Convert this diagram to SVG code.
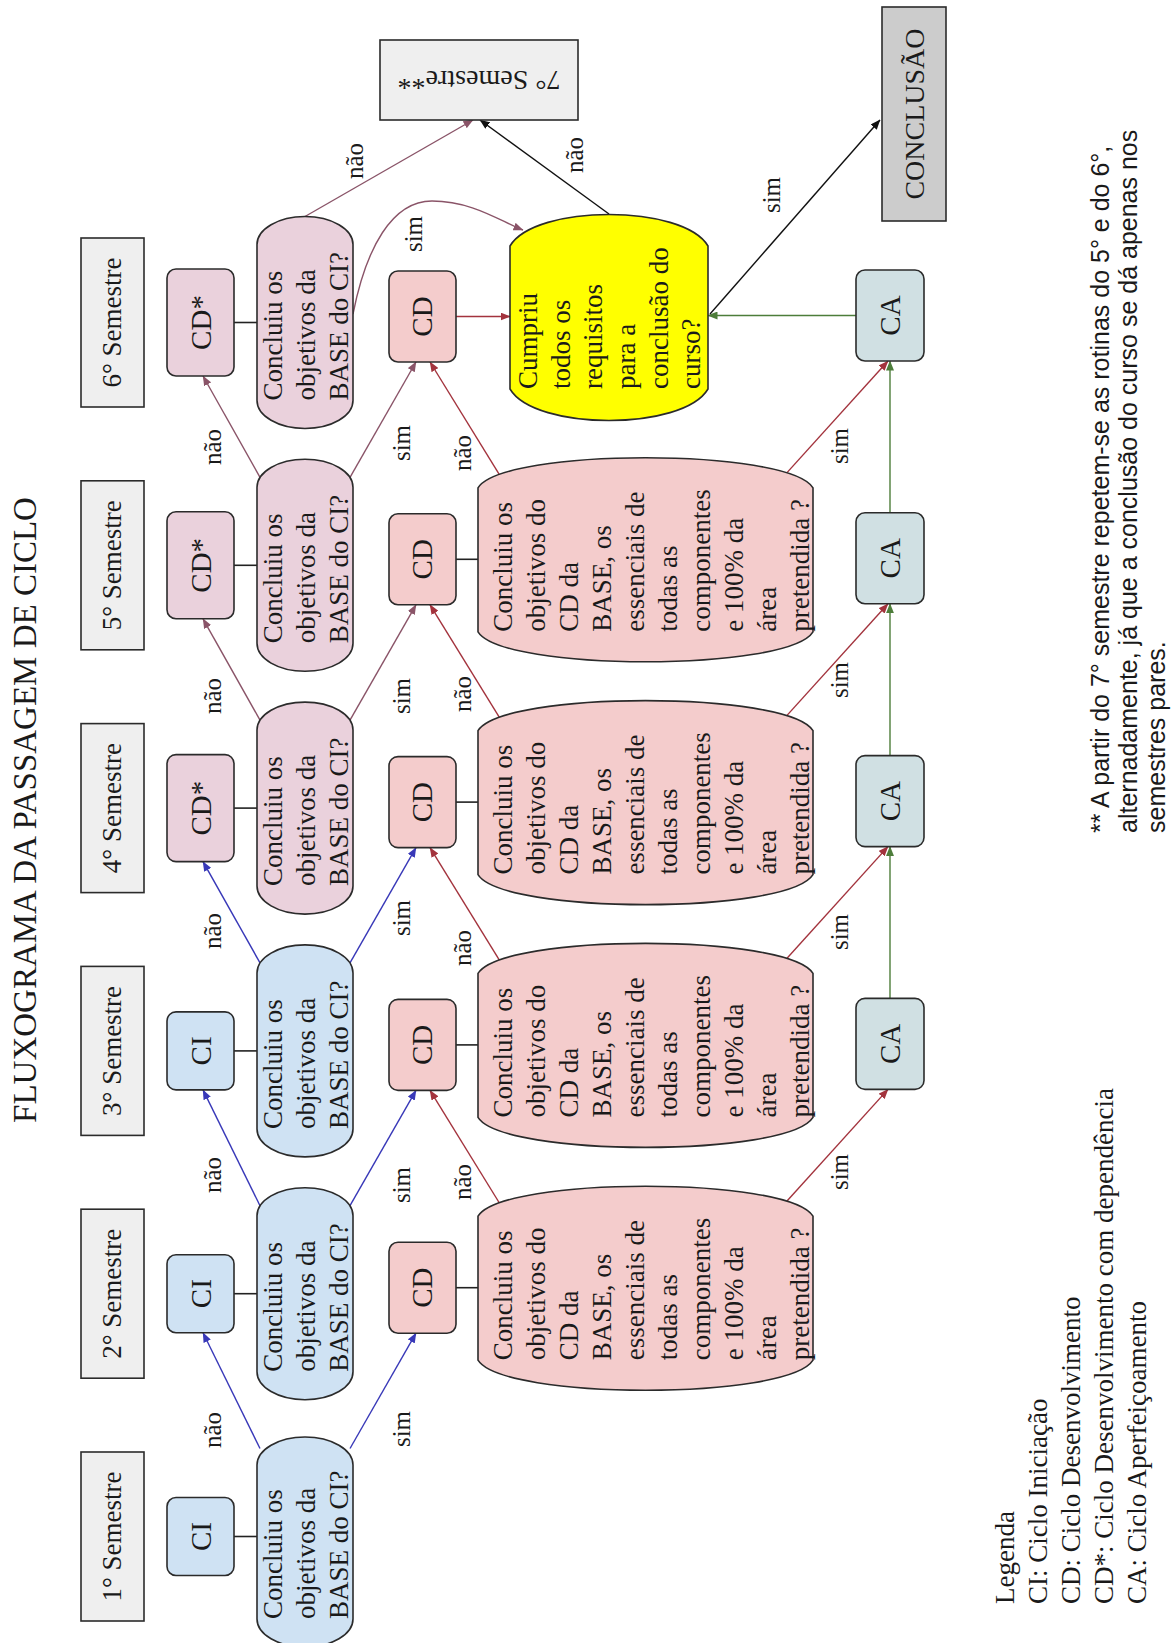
<svg xmlns="http://www.w3.org/2000/svg" width="1171" height="1643" viewBox="0 0 1171 1643">
<defs>
<style>
text{font-family:"Liberation Serif","Times New Roman",serif;fill:#1a1a1a}
.sans{font-family:"Liberation Sans",Arial,sans-serif}
.box{stroke:#2b2b2b;stroke-width:1.6}
.sem{fill:#efefef}
.ci{fill:#cfe2f3}
.cdx{fill:#ead1dc}
.cd{fill:#f4cccc}
.ca{fill:#d0e0e3}
.yel{fill:#ffff00}
.conc{fill:#cccccc}
.t27{font-size:27px}
.t29{font-size:29px}
.lab{font-size:25px}
.c{text-anchor:middle}
.ln{fill:none;stroke-width:1.4}
.blue{stroke:#3838b8}
.mauve{stroke:#8a5468}
.red{stroke:#a3333d}
.green{stroke:#4d7d3a}
.blk{stroke:#111}
.plain{stroke:#222;stroke-width:1.6;fill:none}
</style>
<marker id="mBlue" markerWidth="10" markerHeight="8" refX="9.5" refY="4" orient="auto" markerUnits="userSpaceOnUse"><path d="M0,0 L10,4 L0,8 Z" fill="#3838b8"/></marker>
<marker id="mMauve" markerWidth="10" markerHeight="8" refX="9.5" refY="4" orient="auto" markerUnits="userSpaceOnUse"><path d="M0,0 L10,4 L0,8 Z" fill="#8a5468"/></marker>
<marker id="mRed" markerWidth="10" markerHeight="8" refX="9.5" refY="4" orient="auto" markerUnits="userSpaceOnUse"><path d="M0,0 L10,4 L0,8 Z" fill="#a3333d"/></marker>
<marker id="mGreen" markerWidth="10" markerHeight="8" refX="9.5" refY="4" orient="auto" markerUnits="userSpaceOnUse"><path d="M0,0 L10,4 L0,8 Z" fill="#4d7d3a"/></marker>
<marker id="mBlk" markerWidth="10" markerHeight="8" refX="9.5" refY="4" orient="auto" markerUnits="userSpaceOnUse"><path d="M0,0 L10,4 L0,8 Z" fill="#111"/></marker>
</defs>
<rect x="0" y="0" width="1171" height="1643" fill="#ffffff"/>
<g transform="translate(0,1643) rotate(-90)">
<text id="title" x="833" y="36" class="c" font-size="33">FLUXOGRAMA DA PASSAGEM DE CICLO</text>

<g id="connectors">
<line class="plain" x1="106.5" y1="234" x2="106.5" y2="257"/>
<line class="plain" x1="349.3" y1="234" x2="349.3" y2="257"/>
<line class="plain" x1="592.1" y1="234" x2="592.1" y2="257"/>
<line class="plain" x1="834.9" y1="234" x2="834.9" y2="257"/>
<line class="plain" x1="1077.7" y1="234" x2="1077.7" y2="257"/>
<line class="plain" x1="1320.5" y1="234" x2="1320.5" y2="257"/>
<line class="plain" x1="355.3" y1="456" x2="355.3" y2="478"/>
<line class="plain" x1="598.1" y1="456" x2="598.1" y2="478"/>
<line class="plain" x1="840.9" y1="456" x2="840.9" y2="478"/>
<line class="plain" x1="1083.7" y1="456" x2="1083.7" y2="478"/>

<line class="ln blue" x1="194.5" y1="260" x2="310.3" y2="203" marker-end="url(#mBlue)"/>
<line class="ln blue" x1="437.3" y1="260" x2="553.1" y2="203" marker-end="url(#mBlue)"/>
<line class="ln blue" x1="680.1" y1="260" x2="781.4" y2="203" marker-end="url(#mBlue)"/>
<line class="ln mauve" x1="922.9" y1="260" x2="1024.2" y2="203" marker-end="url(#mMauve)"/>
<line class="ln mauve" x1="1165.7" y1="260" x2="1267" y2="203" marker-end="url(#mMauve)"/>

<line class="ln blue" x1="194.5" y1="350" x2="309.8" y2="416" marker-end="url(#mBlue)"/>
<line class="ln blue" x1="437.3" y1="350" x2="552.6" y2="416" marker-end="url(#mBlue)"/>
<line class="ln blue" x1="680.1" y1="350" x2="795.4" y2="416" marker-end="url(#mBlue)"/>
<line class="ln mauve" x1="922.9" y1="350" x2="1038.2" y2="416" marker-end="url(#mMauve)"/>
<line class="ln mauve" x1="1165.7" y1="350" x2="1281" y2="416" marker-end="url(#mMauve)"/>

<line class="ln red" x1="439" y1="500" x2="552.6" y2="430" marker-end="url(#mRed)"/>
<line class="ln red" x1="681.8" y1="500" x2="795.4" y2="430" marker-end="url(#mRed)"/>
<line class="ln red" x1="924.6" y1="500" x2="1038.2" y2="430" marker-end="url(#mRed)"/>
<line class="ln red" x1="1167.4" y1="500" x2="1281" y2="430" marker-end="url(#mRed)"/>

<line class="ln red" x1="442" y1="787" x2="553.6" y2="888" marker-end="url(#mRed)"/>
<line class="ln red" x1="684.8" y1="787" x2="796.4" y2="888" marker-end="url(#mRed)"/>
<line class="ln red" x1="927.6" y1="787" x2="1039.2" y2="888" marker-end="url(#mRed)"/>
<line class="ln red" x1="1170.4" y1="787" x2="1282" y2="888" marker-end="url(#mRed)"/>

<line class="ln green" x1="644.6" y1="890" x2="796.4" y2="890" marker-end="url(#mGreen)"/>
<line class="ln green" x1="887.4" y1="890" x2="1039.2" y2="890" marker-end="url(#mGreen)"/>
<line class="ln green" x1="1130.2" y1="890" x2="1282" y2="890" marker-end="url(#mGreen)"/>
<line class="ln green" x1="1327.5" y1="856" x2="1327.5" y2="708" marker-end="url(#mGreen)"/>

<line class="ln red" x1="1326.5" y1="456" x2="1326.5" y2="510" marker-end="url(#mRed)"/>
<line class="ln mauve" x1="1426.5" y1="305" x2="1523" y2="473" marker-end="url(#mMauve)"/>
<path class="ln mauve" d="M1329,353 C1395,366 1442,392 1442,432 S1422,500 1413,523" marker-end="url(#mMauve)"/>
<line class="ln blk" x1="1429" y1="609" x2="1523" y2="480" marker-end="url(#mBlk)"/>
<line class="ln blk" x1="1329" y1="710" x2="1523" y2="880" marker-end="url(#mBlk)"/>

<g class="lab c">
<text x="213" y="221">não</text>
<text x="468" y="221">não</text>
<text x="712" y="221">não</text>
<text x="947" y="221">não</text>
<text x="1196" y="221">não</text>
<text x="1482" y="363">não</text>
<text x="214" y="410">sim</text>
<text x="458" y="410">sim</text>
<text x="725" y="410">sim</text>
<text x="947" y="410">sim</text>
<text x="1200" y="410">sim</text>
<text x="1409" y="422">sim</text>
<text x="461" y="471">não</text>
<text x="695" y="471">não</text>
<text x="949" y="471">não</text>
<text x="1190" y="471">não</text>
<text x="471" y="848">sim</text>
<text x="711" y="848">sim</text>
<text x="963" y="848">sim</text>
<text x="1197" y="848">sim</text>
<text x="1488" y="583">não</text>
<text x="1448" y="780">sim</text>
</g>
</g>

<g id="sem1"><rect class="box sem" x="22" y="81" width="169" height="63"/><text class="t27 c" x="106.5" y="121">1° Semestre</text></g>
<g id="sem2"><rect class="box sem" x="264.8" y="81" width="169" height="63"/><text class="t27 c" x="349.3" y="121">2° Semestre</text></g>
<g id="sem3"><rect class="box sem" x="507.6" y="81" width="169" height="63"/><text class="t27 c" x="592.1" y="121">3° Semestre</text></g>
<g id="sem4"><rect class="box sem" x="750.4" y="81" width="169" height="63"/><text class="t27 c" x="834.9" y="121">4° Semestre</text></g>
<g id="sem5"><rect class="box sem" x="993.2" y="81" width="169" height="63"/><text class="t27 c" x="1077.7" y="121">5° Semestre</text></g>
<g id="sem6"><rect class="box sem" x="1236" y="81" width="169" height="63"/><text class="t27 c" x="1320.5" y="121">6° Semestre</text></g>
<g id="sem7"><rect class="box sem" x="1523" y="380" width="80" height="198"/><text class="c" font-size="28" x="1563" y="488" transform="rotate(-90 1563 479)">7° Semestre**</text></g>

<g id="ci1"><rect class="box ci" x="67.5" y="167" width="78" height="67" rx="9"/><text class="t29 c" x="106.5" y="211">CI</text></g>
<g id="ci2"><rect class="box ci" x="310.3" y="167" width="78" height="67" rx="9"/><text class="t29 c" x="349.3" y="211">CI</text></g>
<g id="ci3"><rect class="box ci" x="553.1" y="167" width="78" height="67" rx="9"/><text class="t29 c" x="592.1" y="211">CI</text></g>
<g id="cdx4"><rect class="box cdx" x="781.4" y="167" width="107" height="67" rx="9"/><text class="t29 c" x="834.9" y="211">CD*</text></g>
<g id="cdx5"><rect class="box cdx" x="1024.2" y="167" width="107" height="67" rx="9"/><text class="t29 c" x="1077.7" y="211">CD*</text></g>
<g id="cdx6"><rect class="box cdx" x="1267" y="167" width="107" height="67" rx="9"/><text class="t29 c" x="1320.5" y="211">CD*</text></g>

<g id="q1"><rect class="box ci" x="-4" y="257" width="210" height="96" rx="28" ry="48"/><text class="t27"><tspan x="24" y="282">Concluiu os</tspan><tspan x="24" y="315">objetivos da</tspan><tspan x="24" y="348">BASE do CI?</tspan></text></g>
<g id="q2"><rect class="box ci" x="243.3" y="257" width="212" height="96" rx="28" ry="48"/><text class="t27"><tspan x="271.3" y="282">Concluiu os</tspan><tspan x="271.3" y="315">objetivos da</tspan><tspan x="271.3" y="348">BASE do CI?</tspan></text></g>
<g id="q3"><rect class="box ci" x="486.1" y="257" width="212" height="96" rx="28" ry="48"/><text class="t27"><tspan x="514.1" y="282">Concluiu os</tspan><tspan x="514.1" y="315">objetivos da</tspan><tspan x="514.1" y="348">BASE do CI?</tspan></text></g>
<g id="q4"><rect class="box cdx" x="728.9" y="257" width="212" height="96" rx="28" ry="48"/><text class="t27"><tspan x="756.9" y="282">Concluiu os</tspan><tspan x="756.9" y="315">objetivos da</tspan><tspan x="756.9" y="348">BASE do CI?</tspan></text></g>
<g id="q5"><rect class="box cdx" x="971.7" y="257" width="212" height="96" rx="28" ry="48"/><text class="t27"><tspan x="999.7" y="282">Concluiu os</tspan><tspan x="999.7" y="315">objetivos da</tspan><tspan x="999.7" y="348">BASE do CI?</tspan></text></g>
<g id="q6"><rect class="box cdx" x="1214.5" y="257" width="212" height="96" rx="28" ry="48"/><text class="t27"><tspan x="1242.5" y="282">Concluiu os</tspan><tspan x="1242.5" y="315">objetivos da</tspan><tspan x="1242.5" y="348">BASE do CI?</tspan></text></g>

<g id="cd2"><rect class="box cd" x="309.8" y="389" width="91" height="67" rx="9"/><text class="t29 c" x="355.3" y="432">CD</text></g>
<g id="cd3"><rect class="box cd" x="552.6" y="389" width="91" height="67" rx="9"/><text class="t29 c" x="598.1" y="432">CD</text></g>
<g id="cd4"><rect class="box cd" x="795.4" y="389" width="91" height="67" rx="9"/><text class="t29 c" x="840.9" y="432">CD</text></g>
<g id="cd5"><rect class="box cd" x="1038.2" y="389" width="91" height="67" rx="9"/><text class="t29 c" x="1083.7" y="432">CD</text></g>
<g id="cd6"><rect class="box cd" x="1281" y="389" width="91" height="67" rx="9"/><text class="t29 c" x="1326.5" y="432">CD</text></g>

<g id="big2"><path class="box cd" d="M282.8,478 L426.8,478 C466.8,503 466.8,788 426.8,813 L282.8,813 C242.8,788 242.8,503 282.8,478 Z"/>
<text class="t27"><tspan x="282.8" y="512">Concluiu os</tspan><tspan x="282.8" y="545">objetivos do</tspan><tspan x="282.8" y="578">CD da</tspan><tspan x="282.8" y="611">BASE, os</tspan><tspan x="282.8" y="644">essenciais de</tspan><tspan x="282.8" y="677">todas as</tspan><tspan x="282.8" y="710">componentes</tspan><tspan x="282.8" y="743">e 100% da</tspan><tspan x="282.8" y="776">área</tspan><tspan x="282.8" y="809">pretendida ?</tspan></text></g>
<g id="big3"><path class="box cd" d="M525.6,478 L669.6,478 C709.6,503 709.6,788 669.6,813 L525.6,813 C485.6,788 485.6,503 525.6,478 Z"/>
<text class="t27"><tspan x="525.6" y="512">Concluiu os</tspan><tspan x="525.6" y="545">objetivos do</tspan><tspan x="525.6" y="578">CD da</tspan><tspan x="525.6" y="611">BASE, os</tspan><tspan x="525.6" y="644">essenciais de</tspan><tspan x="525.6" y="677">todas as</tspan><tspan x="525.6" y="710">componentes</tspan><tspan x="525.6" y="743">e 100% da</tspan><tspan x="525.6" y="776">área</tspan><tspan x="525.6" y="809">pretendida ?</tspan></text></g>
<g id="big4"><path class="box cd" d="M768.4,478 L912.4,478 C952.4,503 952.4,788 912.4,813 L768.4,813 C728.4,788 728.4,503 768.4,478 Z"/>
<text class="t27"><tspan x="768.4" y="512">Concluiu os</tspan><tspan x="768.4" y="545">objetivos do</tspan><tspan x="768.4" y="578">CD da</tspan><tspan x="768.4" y="611">BASE, os</tspan><tspan x="768.4" y="644">essenciais de</tspan><tspan x="768.4" y="677">todas as</tspan><tspan x="768.4" y="710">componentes</tspan><tspan x="768.4" y="743">e 100% da</tspan><tspan x="768.4" y="776">área</tspan><tspan x="768.4" y="809">pretendida ?</tspan></text></g>
<g id="big5"><path class="box cd" d="M1011.2,478 L1155.2,478 C1195.2,503 1195.2,788 1155.2,813 L1011.2,813 C971.2,788 971.2,503 1011.2,478 Z"/>
<text class="t27"><tspan x="1011.2" y="512">Concluiu os</tspan><tspan x="1011.2" y="545">objetivos do</tspan><tspan x="1011.2" y="578">CD da</tspan><tspan x="1011.2" y="611">BASE, os</tspan><tspan x="1011.2" y="644">essenciais de</tspan><tspan x="1011.2" y="677">todas as</tspan><tspan x="1011.2" y="710">componentes</tspan><tspan x="1011.2" y="743">e 100% da</tspan><tspan x="1011.2" y="776">área</tspan><tspan x="1011.2" y="809">pretendida ?</tspan></text></g>

<g id="final"><path class="box yel" d="M1254,510 L1397,510 C1439,535 1439,683 1397,708 L1254,708 C1212,683 1212,535 1254,510 Z"/>
<text class="t27"><tspan x="1254" y="537">Cumpriu</tspan><tspan x="1254" y="570">todos os</tspan><tspan x="1254" y="602">requisitos</tspan><tspan x="1254" y="635">para a</tspan><tspan x="1254" y="668">conclusão do</tspan><tspan x="1254" y="700">curso?</tspan></text></g>

<g id="ca3"><rect class="box ca" x="553.6" y="856" width="91" height="68" rx="9"/><text class="t29 c" x="599.1" y="900">CA</text></g>
<g id="ca4"><rect class="box ca" x="796.4" y="856" width="91" height="68" rx="9"/><text class="t29 c" x="841.9" y="900">CA</text></g>
<g id="ca5"><rect class="box ca" x="1039.2" y="856" width="91" height="68" rx="9"/><text class="t29 c" x="1084.7" y="900">CA</text></g>
<g id="ca6"><rect class="box ca" x="1282" y="856" width="91" height="68" rx="9"/><text class="t29 c" x="1327.5" y="900">CA</text></g>

<g id="conclusao"><rect class="box conc" x="1422" y="882" width="214" height="64"/><text class="c" font-size="28" x="1529" y="924">CONCLUSÃO</text></g>

<g id="legenda" class="t27">
<text x="39" y="1014">Legenda</text>
<text x="39" y="1047">CI: Ciclo Iniciação</text>
<text x="39" y="1080">CD: Ciclo Desenvolvimento</text>
<text x="39" y="1113">CD*: Ciclo Desenvolvimento com dependência</text>
<text x="39" y="1146">CA: Ciclo Aperfeiçoamento</text>
</g>

<g id="nota" class="sans" font-size="25">
<text class="sans" x="810" y="1109">** A partir do 7° semestre repetem-se as rotinas do 5° e do 6°,</text>
<text class="sans" x="810" y="1137">alternadamente, já que a conclusão do curso se dá apenas nos</text>
<text class="sans" x="810" y="1165">semestres pares.</text>
</g>
</g>
</svg>
